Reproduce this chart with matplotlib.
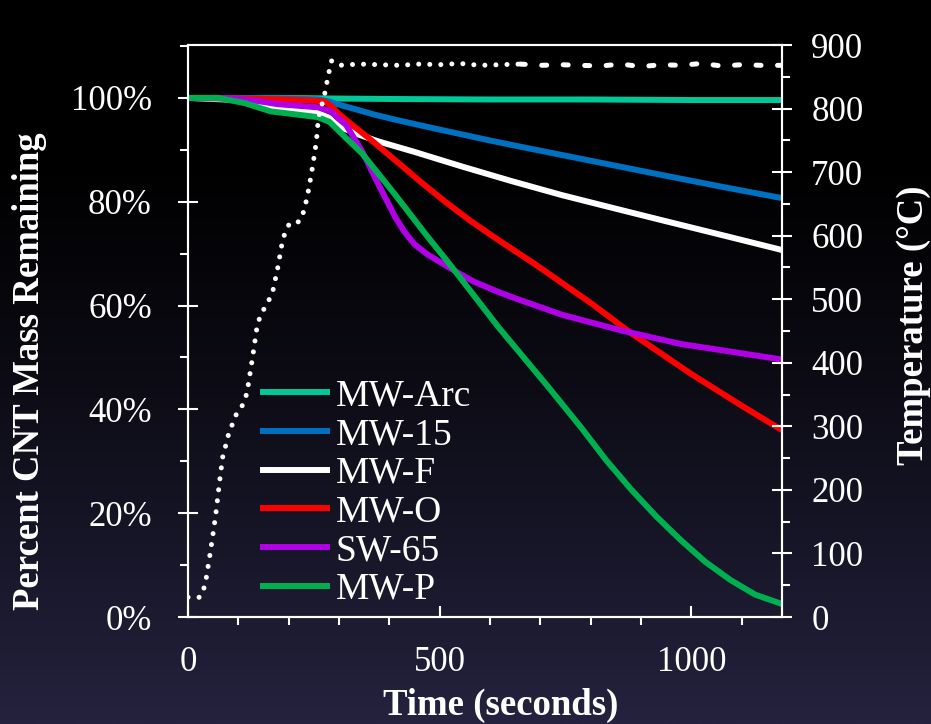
import numpy as np
import matplotlib.pyplot as plt
from matplotlib.ticker import MultipleLocator, FuncFormatter

plt.rcParams['font.family'] = ['Liberation Serif', 'DejaVu Serif']

# mass remaining curves (time s, percent)
arc_t = [0, 100, 200, 280, 400, 600, 800, 1000, 1180]
arc_v = [100, 100, 100, 99.9, 99.8, 99.7, 99.7, 99.6, 99.6]

mw15_t = [0, 100, 200, 260, 281, 300, 330, 370, 412, 500, 600, 676, 800, 939, 1060, 1180]
mw15_v = [100, 100, 99.9, 99.7, 99.3, 98.7, 97.9, 96.8, 95.8, 93.9, 91.8, 90.3, 87.9, 85.2, 82.9, 80.7]

mwf_t = [0, 100, 140, 165, 200, 258, 280, 300, 340, 379, 450, 544, 642, 742, 840, 939, 1060, 1180]
mwf_v = [100, 99.6, 99.0, 98.2, 97.8, 97.1, 96.2, 94.5, 92.9, 91.6, 89.6, 86.8, 84.0, 81.3, 78.9, 76.5, 73.6, 70.7]

mwo_t = [0, 100, 192, 250, 271, 285, 300, 330, 360, 419, 460, 511, 560, 617, 689, 800, 880, 1000, 1100, 1180]
mwo_v = [100, 99.9, 99.7, 99.5, 99.3, 98.4, 96.9, 94.5, 92.2, 87.4, 84.0, 80.0, 76.4, 72.6, 68.0, 60.5, 54.7, 46.8, 40.7, 36.0]

sw65_t = [0, 89, 139, 178, 258, 284, 297, 314, 346, 379, 412, 430, 450, 475, 504, 535, 568, 617, 650, 744, 861, 979, 1100, 1180]
sw65_v = [100, 99.9, 99.4, 98.8, 98.2, 97.4, 96.2, 94.8, 89.7, 83.2, 77.0, 74.2, 71.8, 69.9, 68.2, 66.4, 64.6, 62.6, 61.4, 58.2, 55.2, 52.6, 50.8, 49.6]

mwp_t = [0, 60, 113, 139, 165, 200, 258, 281, 300, 333, 346, 412, 474, 518, 617, 715, 781, 830, 880, 930, 979, 1028, 1078, 1127, 1180]
mwp_v = [100, 100, 99.0, 98.2, 97.4, 97.0, 96.3, 95.4, 93.6, 90.5, 89.3, 81.3, 73.5, 68.2, 55.8, 44.4, 36.5, 30.3, 24.6, 19.4, 14.8, 10.6, 7.1, 4.3, 2.5]

# furnace temperature (time s, deg C)
temp_t = [0, 24, 34, 45, 55, 63, 69, 75, 81, 97, 109, 117, 128, 138, 146, 158, 168, 178, 186, 192,
          202, 221, 231, 240, 248, 255, 259, 265, 271, 280, 285, 300, 340, 380, 420, 460, 500, 540,
          580, 620, 660, 700, 740, 780, 820, 860, 900, 940, 980, 1020, 1060, 1100, 1140, 1180]
temp_v = [31, 31, 50, 105, 160, 215, 252, 270, 289, 321, 334, 352, 407, 461, 478, 494, 511, 548, 584, 603,
          620, 622, 640, 674, 711, 748, 785, 803, 821, 857, 875, 868, 870, 869, 868, 870, 869, 871,
          868, 869, 870, 868, 869, 868, 867, 870, 866, 869, 868, 871, 867, 869, 868, 868]

series = [
    ('MW-Arc', arc_t, arc_v, '#00C896'),
    ('MW-15', mw15_t, mw15_v, '#0070C0'),
    ('MW-F', mwf_t, mwf_v, '#FFFFFF'),
    ('MW-O', mwo_t, mwo_v, '#FF0000'),
    ('SW-65', sw65_t, sw65_v, '#B000E6'),
    ('MW-P', mwp_t, mwp_v, '#00B050'),
]

fig = plt.figure(figsize=(9.31, 7.24), dpi=100)

# background gradient: black at top to dark navy at bottom
bg = fig.add_axes([0, 0, 1, 1], zorder=-10)
s = np.linspace(0, 1, 400)
f = np.clip((s - 0.2) / 0.8, 0, 1) ** 1.2
bottom = np.array([36, 34, 62]) / 255.0
grad = (f[:, None] * bottom[None, :])[:, None, :]
bg.imshow(grad, aspect='auto', extent=[0, 1, 0, 1])
bg.axis('off')

ax = fig.add_axes([188 / 931, 107 / 724, 594 / 931, 572 / 724])
ax.set_facecolor('none')
for name, t, v, c in series:
    ax.plot(t, v, color=c, lw=4.3, label=name, solid_capstyle='butt', solid_joinstyle='round')

ax.set_xlim(0, 1180)
ax.set_ylim(0, 110.2)
ax.xaxis.set_major_locator(MultipleLocator(500))
ax.xaxis.set_minor_locator(MultipleLocator(100))
ax.yaxis.set_major_locator(MultipleLocator(20))
ax.yaxis.set_minor_locator(MultipleLocator(10))
ax.yaxis.set_major_formatter(FuncFormatter(lambda y, p: '%d%%' % y if y <= 100 else ''))

for sp in ax.spines.values():
    sp.set_color('white')
    sp.set_linewidth(1.5)

ax.tick_params(axis='x', which='major', direction='in', length=8, width=1.5, colors='white',
               labelsize=25, pad=21)
ax.tick_params(axis='x', which='minor', direction='out', length=6, width=1.5, colors='white')
ax.tick_params(axis='y', which='major', direction='inout', length=14, width=1.5, colors='white',
               labelsize=25, pad=19)
ax.tick_params(axis='y', which='minor', direction='out', length=6, width=1.5, colors='white')

ax.set_xlabel('Time (seconds)', fontsize=26.5, fontweight='bold', color='white')
ax.xaxis.set_label_coords(0.527, -0.124)
ax.set_ylabel('Percent CNT Mass Remaining', fontsize=26.5, fontweight='bold', color='white')
ax.yaxis.set_label_coords(-0.238, 0.43)

leg = ax.legend(loc='upper left', bbox_to_anchor=(0.121, 0.416), frameon=False, fontsize=27,
                handlelength=1.87, handletextpad=0.15, labelspacing=0.11, borderpad=0,
                borderaxespad=0)
for txt in leg.get_texts():
    txt.set_color('white')

ax2 = ax.twinx()
ax2.set_ylim(0, 900)
ax2.set_xlim(0, 1180)
# dotted segment, then the sparser dashed-looking tail
head = [i for i, t in enumerate(temp_t) if t <= 660]
tail = [i for i, t in enumerate(temp_t) if t >= 660]
ax2.plot([temp_t[i] for i in head], [temp_v[i] for i in head], color='white', lw=3.6,
         linestyle=(0, (0.01, 2.2)), dash_capstyle='round')
ax2.plot([temp_t[i] for i in tail], [temp_v[i] for i in tail], color='white', lw=3.6,
         linestyle=(0, (1.0, 3.3)), dash_capstyle='round')
ax2.yaxis.set_major_locator(MultipleLocator(100))
ax2.yaxis.set_minor_locator(MultipleLocator(50))
for sp in ax2.spines.values():
    sp.set_color('white')
    sp.set_linewidth(1.5)
ax2.tick_params(axis='y', which='major', direction='inout', length=14, width=1.5, colors='white',
                labelsize=25, pad=14)
ax2.tick_params(axis='y', which='minor', direction='out', length=6, width=1.5, colors='white')
ax2.set_ylabel('Temperature (°C)', fontsize=26.5, fontweight='bold', color='white')
ax2.yaxis.set_label_coords(1.192, 0.51)

fig.savefig('out.png', dpi=100)
